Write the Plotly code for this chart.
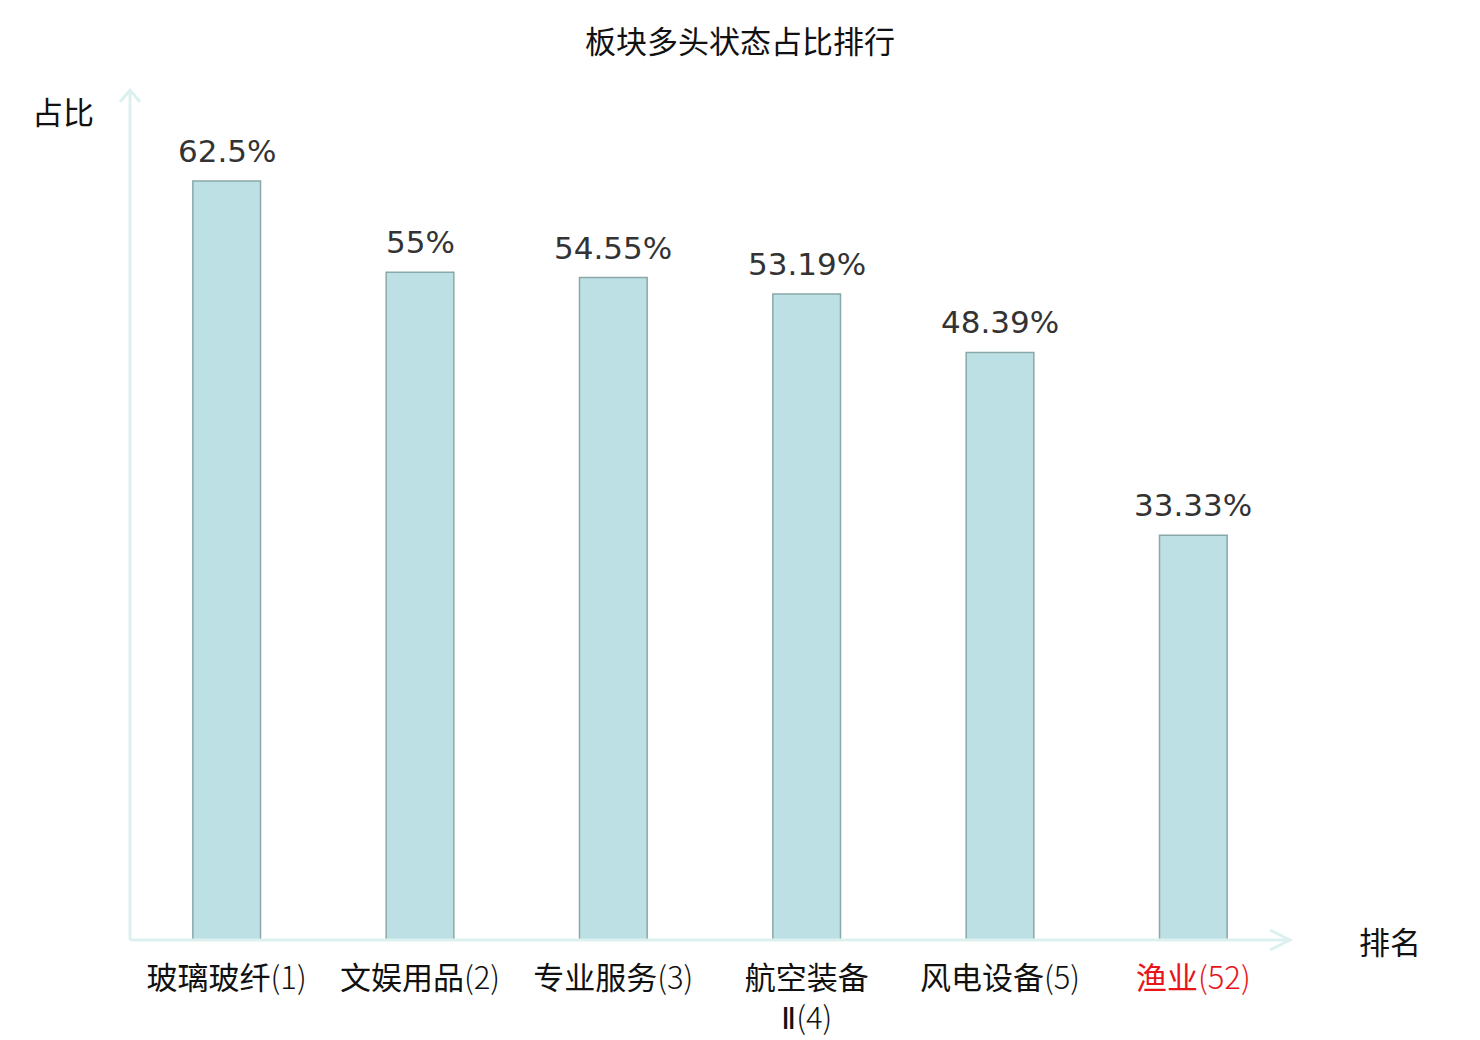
import plotly.graph_objects as go

# data
sectors = ["玻璃玻纤", "文娱用品", "专业服务", "航空装备<br>Ⅱ", "风电设备", "渔业"]
ranks = [1, 2, 3, 4, 5, 52]
ratios = [62.5, 55, 54.55, 53.19, 48.39, 33.33]
ratio_text = ["62.5%", "55%", "54.55%", "53.19%", "48.39%", "33.33%"]

font_family = "DejaVu Sans, Noto Sans CJK SC, sans-serif"
cjk_family = "Noto Sans CJK SC, sans-serif"
OFF = 8  # page body margin
PW, PH = 1480, 1040  # browser window
W, H = PW - 2 * OFF, PH - OFF
# target plot box on the page: x 130..1290, y 90..940
L, T = 130 - OFF, 90 - OFF
R = W - (1290 - OFF)
B = H - (940 - OFF)
pw, ph = W - L - R, H - T - B

xs = list(range(len(sectors)))
ticktext = []
for s, r in zip(sectors, ranks):
    s = s.replace("Ⅱ", '<span style="font-family:DejaVu Sans">Ⅱ</span>')
    t = '%s<span style="font-weight:300">(%d)</span>' % (s, r)
    if r > 5:
        t = '<span style="color:#e8141b">%s</span>' % t
    ticktext.append(t)

fig = go.Figure()
fig.add_trace(go.Bar(
    x=xs, y=ratios, width=0.35,
    marker=dict(color="#bce0e3", line=dict(color="#8aa8a8", width=1.5)),
    hoverinfo="skip",
))

# value labels above bars
for x, y, t in zip(xs, ratios, ratio_text):
    fig.add_annotation(x=x, y=y, text=t, showarrow=False, yanchor="bottom",
                       yshift=10, font=dict(size=31, color="#333333", family=font_family))

# axis arrows (paper coords)
ac = "#dcf1ef"
aw = 3
dx, dy = 20 / pw, 20 / ph
fig.add_shape(type="line", xref="paper", yref="paper", x0=0, y0=0, x1=1, y1=0,
              line=dict(color=ac, width=aw))
fig.add_shape(type="line", xref="paper", yref="paper", x0=0, y0=0, x1=0, y1=1,
              line=dict(color=ac, width=aw))
fig.add_shape(type="path", xref="paper", yref="paper",
              path="M %f %f L 1 0 L %f %f" % (1 - dx, dy * 0.5, 1 - dx, -dy * 0.5),
              line=dict(color=ac, width=aw))
fig.add_shape(type="path", xref="paper", yref="paper",
              path="M %f %f L 0 1 L %f %f" % (-dx * 0.5, 1 - dy * 0.6, dx * 0.5, 1 - dy * 0.6),
              line=dict(color=ac, width=aw))

fig.add_annotation(xref="paper", yref="paper", x=(63 - 130) / pw, y=(940 - 110) / ph,
                   xanchor="center", yanchor="middle",
                   text="占比", showarrow=False, font=dict(size=31, color="#111111", family=cjk_family))
fig.add_annotation(xref="paper", yref="paper", x=(1390 - 130) / pw, y=(940 - 940) / ph,
                   xanchor="center", yanchor="middle",
                   text="排名", showarrow=False, font=dict(size=31, color="#111111", family=cjk_family))

fig.update_layout(
    width=W, height=H,
    margin=dict(l=L, r=R, t=T, b=B, autoexpand=False),
    plot_bgcolor="white", paper_bgcolor="white",
    showlegend=False,
    title=dict(text="板块多头状态占比排行", x=(740 - OFF) / W, xanchor="center",
               y=1 - (42 - OFF) / H, yanchor="middle",
               font=dict(size=31, color="#111111", family=cjk_family)),
    font=dict(family=font_family),
    xaxis=dict(tickmode="array", tickvals=xs, ticktext=ticktext, range=[-0.5, len(xs) - 0.5],
               showline=False, showgrid=False, zeroline=False, ticks="",
               automargin=False, ticklabelstandoff=17,
               tickfont=dict(size=31, color="#111111", family=cjk_family)),
    yaxis=dict(range=[0, 70], showticklabels=False, showgrid=False, zeroline=False,
               showline=False, ticks="", automargin=False),
)

fig.write_html("out.html")
